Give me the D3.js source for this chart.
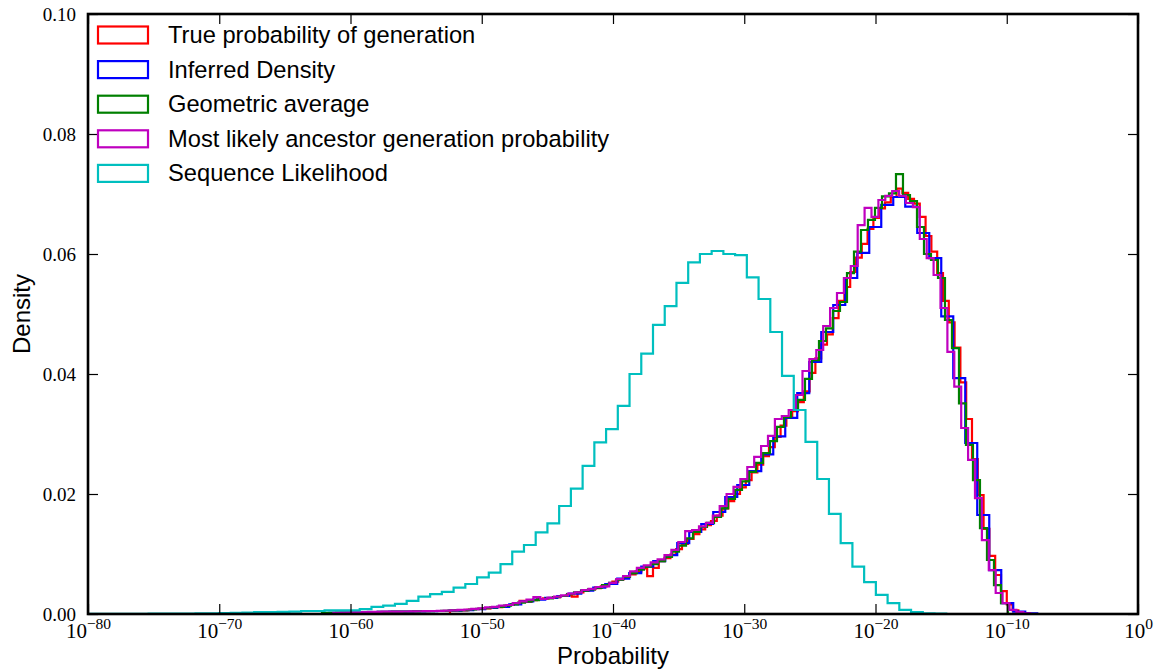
<!DOCTYPE html>
<meta charset="utf-8">
<head>
    <script src="https://d3js.org/d3.v7.min.js"></script>
    <style>

    body {
      margin: 0;
      background: white;
    }

    svg { display: block; background: white; }

    .axis text {
      font-family: "Liberation Serif", "Times New Roman", serif;
      font-size: 19px;
      fill: black;
    }

    .axis line { stroke: black; stroke-width: 1.2; }

    .legend text, .axis-title {
      font-family: "Liberation Sans", Arial, sans-serif;
      font-size: 23.7px;
      fill: black;
    }

    </style>
</head>

<body>

    <svg id="svgid" width="1159" height="670"></svg>

    <script>
        // Series names and colours, in legend order
        var seriesNames = ["True probability of generation", "Inferred Density", "Geometric average",
                           "Most likely ancestor generation probability", "Sequence Likelihood"];
        var seriesColors = ["#ff0000", "#0000ff", "#008000", "#bf00bf", "#00bfbf"];

        // Each histogram: log10 of the first bin edge, bin width (decades), density per bin
        var trueStart = -52.42, trueWidth = 0.4419;
        var trueDensity = [
            0.00055, 0.00058, 0.00062, 0.0007, 0.0008, 0.00086, 0.00094, 0.00104, 0.00114, 0.0013,
            0.0015, 0.0017, 0.0022, 0.0020, 0.0023, 0.0025, 0.0026, 0.0027, 0.0028, 0.0030,
            0.0031, 0.0029, 0.0036, 0.0039, 0.0041, 0.0043, 0.0046, 0.0050, 0.0054, 0.0058,
            0.0062, 0.0066, 0.0071, 0.0076, 0.0063, 0.0077, 0.0088, 0.0093, 0.0099, 0.0108,
            0.0117, 0.0125, 0.0133, 0.0141, 0.0148, 0.0155, 0.0164, 0.0176, 0.0188, 0.0200,
            0.0211, 0.0223, 0.0236, 0.0249, 0.0263, 0.0278, 0.0295, 0.0314, 0.0329, 0.0338,
            0.0353, 0.0371, 0.0402, 0.0426, 0.0449, 0.0466, 0.0493, 0.0522, 0.0545, 0.0570,
            0.0594, 0.0617, 0.0642, 0.0660, 0.0676, 0.0686, 0.0695, 0.0709, 0.0702, 0.0692,
            0.0684, 0.0662, 0.0630, 0.0604, 0.0568, 0.0522, 0.0486, 0.0444, 0.0386, 0.0325,
            0.0258, 0.0198, 0.0142, 0.0097, 0.0065, 0.0038, 0.0016, 0.0006, 0.00025, 0.0001
        ];

        var inferredStart = -61.62, inferredWidth = 0.9143;
        var inferredDensity = [
            0.0002, 0.00025, 0.0003, 0.00033, 0.00035, 0.00038, 0.0004, 0.00043, 0.00046, 0.0005,
            0.00055, 0.00065, 0.0008, 0.0010, 0.0012, 0.0016, 0.0021, 0.0024, 0.0027, 0.0030,
            0.0034, 0.0039, 0.0044, 0.0050, 0.0059, 0.0068, 0.0079, 0.0088, 0.0098, 0.0118,
            0.0137, 0.0150, 0.0170, 0.0195, 0.0215, 0.0238, 0.0266, 0.0296, 0.0327, 0.0368,
            0.0420, 0.0470, 0.0515, 0.0560, 0.0602, 0.0645, 0.0682, 0.0695, 0.0679, 0.0635,
            0.0593, 0.0496, 0.0393, 0.0285, 0.0165, 0.0073, 0.0018, 0.0004, 0.0001
        ];

        var geoStart = -62.17, geoWidth = 0.5333;
        var geoDensity = [
            0.0002, 0.0002, 0.00022, 0.00025, 0.00028, 0.0003, 0.00032, 0.00033, 0.00035, 0.00037,
            0.0004, 0.0004, 0.00042, 0.00044, 0.00046, 0.00048, 0.0005, 0.00052, 0.00056, 0.0006,
            0.00066, 0.00075, 0.00085, 0.00098, 0.0011, 0.0012, 0.0014, 0.0016, 0.0019, 0.0021,
            0.0023, 0.0025, 0.0026, 0.0028, 0.0030, 0.0033, 0.0036, 0.0039, 0.0041, 0.0044,
            0.0048, 0.0052, 0.0057, 0.0062, 0.0068, 0.0074, 0.0079, 0.0083, 0.0088, 0.0095,
            0.0104, 0.0114, 0.0126, 0.0137, 0.0145, 0.0152, 0.0162, 0.0176, 0.0192, 0.0207,
            0.0221, 0.0237, 0.0252, 0.0268, 0.0288, 0.0312, 0.0328, 0.0340, 0.0357, 0.0392,
            0.0423, 0.0455, 0.0476, 0.0505, 0.0520, 0.0568, 0.0604, 0.0640, 0.0657, 0.0677,
            0.0696, 0.0701, 0.0733, 0.0698, 0.0688, 0.0645, 0.0600, 0.0590, 0.0560, 0.0490,
            0.0443, 0.0351, 0.0282, 0.0223, 0.0143, 0.0090, 0.0048, 0.0018
        ];

        var ancestorStart = -61.31, ancestorWidth = 0.5257;
        var ancestorDensity = [
            0.0002, 0.00025, 0.00028, 0.0003, 0.00032, 0.00034, 0.00036, 0.00038, 0.0004, 0.0004,
            0.00042, 0.00044, 0.00046, 0.00048, 0.0005, 0.00052, 0.00056, 0.0006, 0.00068, 0.00075,
            0.00085, 0.00095, 0.0011, 0.0012, 0.0014, 0.0015, 0.0018, 0.0021, 0.0024, 0.0028,
            0.0025, 0.0027, 0.0029, 0.0031, 0.0034, 0.0036, 0.0040, 0.0042, 0.0045, 0.0046,
            0.0052, 0.0058, 0.0063, 0.0071, 0.0077, 0.0081, 0.0086, 0.0091, 0.0098, 0.0107,
            0.0120, 0.0138, 0.0140, 0.0146, 0.0152, 0.0164, 0.0180, 0.0200, 0.0212, 0.0225,
            0.0245, 0.0262, 0.0280, 0.0297, 0.0325, 0.0330, 0.0340, 0.0365, 0.0405, 0.0425,
            0.0440, 0.0480, 0.0510, 0.0535, 0.0560, 0.0580, 0.0648, 0.0677, 0.0662, 0.0690,
            0.0697, 0.0705, 0.0697, 0.0685, 0.0678, 0.0625, 0.0593, 0.0565, 0.0510, 0.0437,
            0.0379, 0.0310, 0.0257, 0.0193, 0.0123, 0.0073, 0.0035, 0.0018, 0.0007, 0.0003,
            0.0001
        ];

        var seqStart = -79.85, seqWidth = 0.8937;
        var seqDensity = [
            0.00002, 0.00002, 0.00003, 0.00003, 0.00004, 0.00005, 0.00006, 0.00007, 0.00008, 0.0001,
            0.00012, 0.00015, 0.0002, 0.00025, 0.0003, 0.0003, 0.00035, 0.0004, 0.0005, 0.0005,
            0.0006, 0.0006, 0.0006, 0.0008, 0.0012, 0.0014, 0.0017, 0.0022, 0.0029, 0.0033,
            0.0037, 0.0044, 0.0050, 0.0061, 0.0069, 0.0083, 0.0104, 0.0115, 0.0136, 0.0151,
            0.0180, 0.0209, 0.0247, 0.0286, 0.0308, 0.0347, 0.0400, 0.0434, 0.0482, 0.0513,
            0.0552, 0.0586, 0.0600, 0.0605, 0.0600, 0.0598, 0.0561, 0.0525, 0.0470, 0.0397,
            0.0340, 0.0287, 0.0225, 0.0167, 0.0118, 0.0079, 0.0053, 0.0032, 0.0018, 0.0007,
            0.0003, 0.00012, 0.00005
        ];

        // Axis ticks
        var xTickExponents = [-80, -70, -60, -50, -40, -30, -20, -10, 0];
        var yTicks = [0.00, 0.02, 0.04, 0.06, 0.08, 0.10];

        var histograms = [
            {start: trueStart, width: trueWidth, density: trueDensity},
            {start: inferredStart, width: inferredWidth, density: inferredDensity},
            {start: geoStart, width: geoWidth, density: geoDensity},
            {start: ancestorStart, width: ancestorWidth, density: ancestorDensity},
            {start: seqStart, width: seqWidth, density: seqDensity}
        ];

        var plotLeft = 88, plotRight = 1138, plotTop = 14, plotBottom = 614;

        var svg = d3.select("#svgid");

        var x = d3.scaleLog().domain([1e-80, 1]).range([plotLeft, plotRight]);
        var y = d3.scaleLinear().domain([0, 0.1]).range([plotBottom, plotTop]);

        svg.append("clipPath").attr("id", "plotclip")
            .append("rect")
            .attr("x", plotLeft).attr("y", plotTop)
            .attr("width", plotRight - plotLeft).attr("height", plotBottom - plotTop);

        // step outline of one histogram
        function stepPath(h) {
            var p = d3.path();
            var edge = function(i) { return x(Math.pow(10, h.start + i * h.width)); };
            p.moveTo(edge(0), y(0));
            h.density.forEach(function(d, i) {
                p.lineTo(edge(i), y(d));
                p.lineTo(edge(i + 1), y(d));
            });
            p.lineTo(edge(h.density.length), y(0));
            return p.toString();
        }

        svg.append("g")
            .attr("clip-path", "url(#plotclip)")
            .selectAll("path")
            .data(histograms)
            .enter().append("path")
            .attr("d", stepPath)
            .style("fill", "none")
            .style("stroke", function(d, i) { return seriesColors[i]; })
            .style("stroke-width", 2.2)
            .style("stroke-linejoin", "miter");

        // ticks on all four sides, pointing inwards
        var xTickValues = xTickExponents.map(function(e) { return Math.pow(10, e); });

        var xBottom = svg.append("g").attr("class", "axis")
            .attr("transform", "translate(0," + plotBottom + ")")
            .call(d3.axisBottom(x).tickValues(xTickValues).tickSize(-10).tickSizeOuter(0).tickFormat(""));
        xBottom.select(".domain").remove();

        xBottom.selectAll(".tick").append("text")
            .attr("y", 24)
            .attr("text-anchor", "middle")
            .style("font-size", "21px")
            .each(function(d, i) {
                var t = d3.select(this);
                t.append("tspan").text("10");
                var e = xTickExponents[i];
                t.append("tspan")
                    .attr("dy", -9)
                    .style("font-size", "15.5px")
                    .text(e < 0 ? "\u2212" + (-e) : String(e));
            });

        svg.append("g").attr("class", "axis")
            .attr("transform", "translate(0," + plotTop + ")")
            .call(d3.axisTop(x).tickValues(xTickValues).tickSize(-10).tickSizeOuter(0).tickFormat(""))
            .select(".domain").remove();

        svg.append("g").attr("class", "axis")
            .attr("transform", "translate(" + plotLeft + ",0)")
            .call(d3.axisLeft(y).tickValues(yTicks).tickSize(-10).tickSizeOuter(0)
                  .tickPadding(12).tickFormat(d3.format(".2f")))
            .select(".domain").remove();

        svg.append("g").attr("class", "axis")
            .attr("transform", "translate(" + plotRight + ",0)")
            .call(d3.axisRight(y).tickValues(yTicks).tickSize(-10).tickSizeOuter(0).tickFormat(""))
            .select(".domain").remove();

        // frame
        svg.append("rect")
            .attr("x", plotLeft).attr("y", plotTop)
            .attr("width", plotRight - plotLeft).attr("height", plotBottom - plotTop)
            .style("fill", "none")
            .style("stroke", "black")
            .style("stroke-width", 2.6);

        // axis titles
        svg.append("text").attr("class", "axis-title")
            .attr("x", (plotLeft + plotRight) / 2).attr("y", 664)
            .attr("text-anchor", "middle")
            .style("font-size", "24px")
            .text("Probability");

        svg.append("text").attr("class", "axis-title")
            .attr("transform", "translate(30," + ((plotTop + plotBottom) / 2) + ") rotate(-90)")
            .attr("text-anchor", "middle")
            .style("font-size", "24px")
            .text("Density");

        // legend, no frame
        var legend = svg.append("g").attr("class", "legend")
            .selectAll("g")
            .data(seriesNames)
            .enter().append("g")
            .attr("transform", function(d, i) { return "translate(98," + (35 + i * 34.6) + ")"; });

        legend.append("rect")
            .attr("x", 0).attr("y", -8.5)
            .attr("width", 50).attr("height", 17)
            .style("fill", "none")
            .style("stroke", function(d, i) { return seriesColors[i]; })
            .style("stroke-width", 2.2);

        legend.append("text")
            .attr("x", 70).attr("y", 8)
            .text(function(d) { return d; });

    </script>
</body>
